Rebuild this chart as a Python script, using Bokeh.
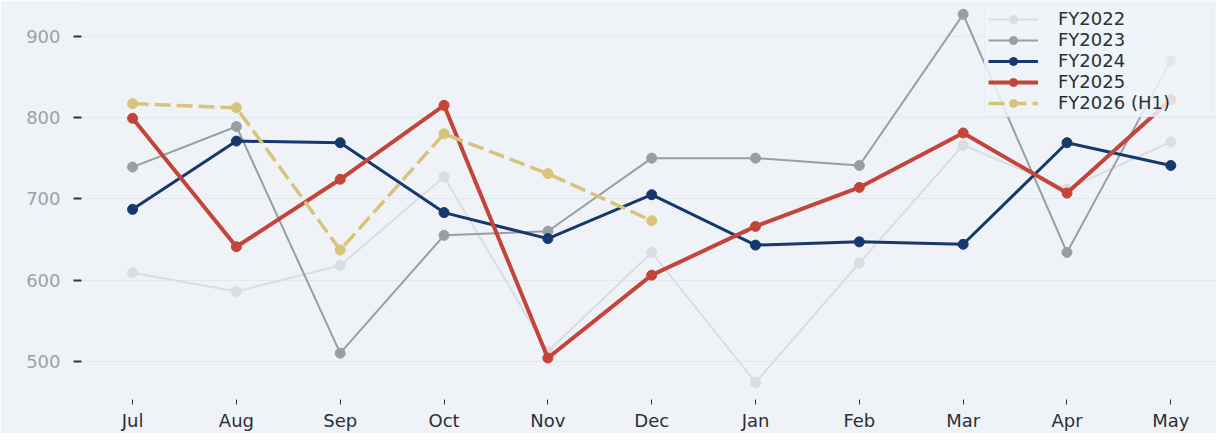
from bokeh.plotting import figure
from bokeh.models import Range1d, FixedTicker, Legend, LegendItem
from bokeh.embed import file_html
from bokeh.resources import INLINE

months = ["Jul", "Aug", "Sep", "Oct", "Nov", "Dec", "Jan", "Feb", "Mar", "Apr", "May"]
fy2022 = [609, 586, 618, 727, 512, 634, 474, 621, 766, 712, 770]
fy2023 = [739, 789, 510, 655, 660, 750, 750, 741, 927, 634, 870]
fy2024 = [687, 771, 769, 683, 651, 705, 643, 647, 644, 769, 741]
fy2025 = [799, 641, 724, 815, 504, 606, 666, 714, 781, 707, 822]
fy2026 = [817, 812, 637, 780, 731, 673]
y_ticks = [500, 600, 700, 800, 900]

BG = "#eff3f8"
FONT = "DejaVu Sans"

xs = list(range(len(months)))

p = figure(width=1216, height=433, output_backend="svg", toolbar_location=None,
           x_range=Range1d(-0.492, 10.44), y_range=Range1d(453, 944),
           min_border_left=81, min_border_right=0, min_border_top=0, min_border_bottom=31,
           background_fill_color=BG, border_fill_color=BG, outline_line_color=None)

series = [
    ("FY2022", fy2022, "#dadde2", 2, None),
    ("FY2023", fy2023, "#979ea5", 2, None),
    ("FY2024", fy2024, "#16386c", 3, None),
    ("FY2025", fy2025, "#c4443a", 4, None),
    ("FY2026 (H1)", fy2026, "#d8c37a", 3.5, "16 6"),
]

items = []
for name, vals, col, lw, dash in series:
    x = xs[:len(vals)]
    kw = {}
    if dash:
        kw["line_dash"] = dash
    r1 = p.line(x, vals, line_color=col, line_width=lw, **kw)
    r2 = p.scatter(x, vals, size=10, fill_color=col, line_color=col)
    items.append(LegendItem(label=name, renderers=[r1, r2]))

p.xaxis.ticker = FixedTicker(ticks=xs)
p.xaxis.major_label_overrides = {i: m for i, m in enumerate(months)}
p.yaxis.ticker = FixedTicker(ticks=y_ticks)

for ax in (p.xaxis[0], p.yaxis[0]):
    ax.axis_line_color = None
    ax.minor_tick_line_color = None
    ax.major_tick_in = 0
    ax.major_tick_line_color = "#333333"
    ax.major_label_text_font = FONT
    ax.major_label_text_font_size = "18px"

p.xaxis.major_tick_out = 5
p.xaxis.major_label_standoff = 5
p.xaxis.major_label_text_color = "#2b2f36"
p.yaxis.major_tick_out = 8
p.yaxis.major_label_standoff = 13
p.yaxis.major_label_text_color = "#9ba1a8"
p.yaxis.major_tick_line_width = 2

p.xgrid.grid_line_color = None
p.ygrid.grid_line_color = "#e3e8ef"
p.ygrid.grid_line_width = 1

legend = Legend(items=items, location="top_right",
                label_text_font=FONT, label_text_font_size="18px", label_text_color="#2b2f36",
                glyph_width=50, glyph_height=20, label_height=20, label_width=150,
                label_standoff=20, spacing=-1, padding=3, margin=4,
                background_fill_color=BG, background_fill_alpha=0.85,
                border_line_color="#dfe4eb", border_line_width=1)
p.add_layout(legend)

open("out.html", "w").write(file_html(p, INLINE))
